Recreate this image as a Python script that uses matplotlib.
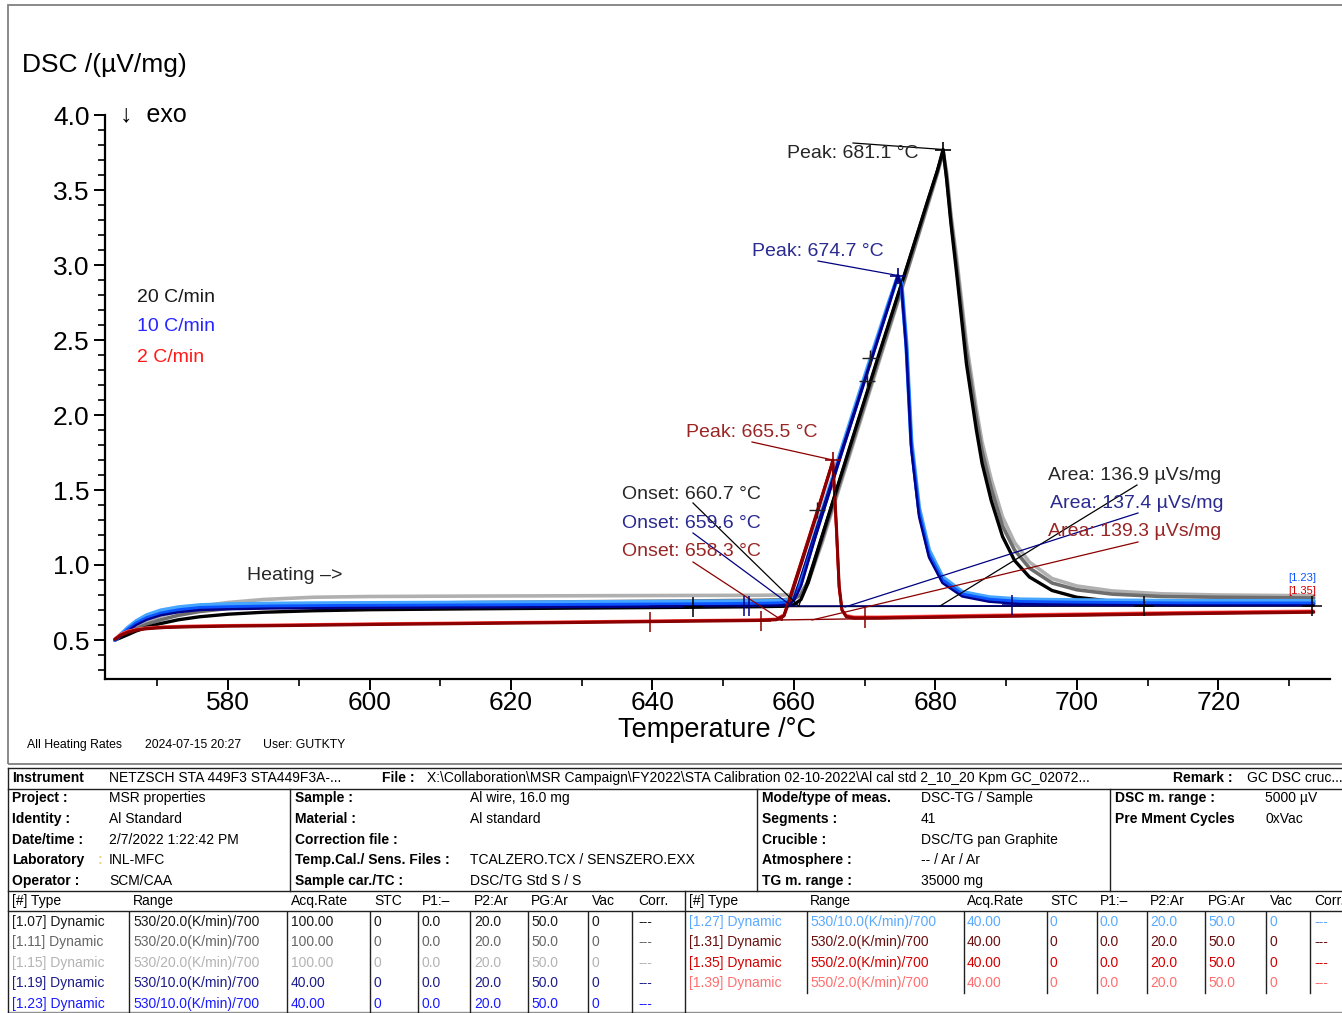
import matplotlib
matplotlib.use("Agg")
import matplotlib.pyplot as plt
from matplotlib.lines import Line2D
from matplotlib.patches import Rectangle
from matplotlib import font_manager

W, H = 1342, 1013

# ---------------- DSC runs (temperature in °C, DSC in µV/mg) ----------------
temp_20 = [564.0, 564.8, 565.8, 567.0, 568.5, 570.5, 573.0, 576.0, 580.0, 585.0,
           592.0, 600.0, 615.0, 630.0, 645.0, 655.0, 658.5, 660.0, 661.0, 662.0,
           664.0, 668.0, 672.0, 676.0, 679.0, 680.3, 681.1, 681.6, 682.2, 683.0,
           684.4, 685.8, 686.6, 687.9, 689.5, 691.2, 693.3, 696.5, 700.0, 705.0,
           712.0, 720.0, 733.5]
dsc_107 = [0.50, 0.515, 0.535, 0.56, 0.585, 0.61, 0.635, 0.655, 0.672, 0.685,
           0.695, 0.702, 0.708, 0.713, 0.718, 0.722, 0.725, 0.735, 0.77, 0.88,
           1.19, 1.80, 2.40, 2.99, 3.44, 3.63, 3.77, 3.57, 3.28, 2.95,
           2.34, 1.90, 1.68, 1.43, 1.19, 1.03, 0.92, 0.83, 0.785, 0.758,
           0.746, 0.742, 0.74]
dsc_111 = [0.50, 0.52, 0.545, 0.575, 0.605, 0.635, 0.665, 0.69, 0.71, 0.725,
           0.735, 0.742, 0.75, 0.755, 0.76, 0.765, 0.768, 0.775, 0.80, 0.89,
           1.17, 1.77, 2.37, 2.96, 3.42, 3.62, 3.76, 3.59, 3.31, 3.00,
           2.42, 1.98, 1.76, 1.51, 1.26, 1.10, 0.98, 0.88, 0.835, 0.806,
           0.79, 0.785, 0.78]
dsc_115 = [0.50, 0.525, 0.555, 0.59, 0.625, 0.66, 0.695, 0.725, 0.75, 0.77,
           0.785, 0.79, 0.793, 0.795, 0.797, 0.798, 0.80, 0.805, 0.82, 0.88,
           1.15, 1.75, 2.35, 2.95, 3.41, 3.61, 3.75, 3.62, 3.34, 3.05,
           2.48, 2.04, 1.82, 1.57, 1.32, 1.15, 1.02, 0.91, 0.86, 0.827,
           0.808, 0.80, 0.795]

temp_10 = [564.0, 564.8, 565.8, 567.0, 568.5, 570.5, 573.0, 576.0, 580.0, 586.0,
           595.0, 610.0, 630.0, 648.0, 655.0, 657.5, 659.0, 660.0, 661.0, 663.0,
           667.0, 671.0, 673.5, 674.7, 675.2, 675.9, 676.6, 677.7, 679.1, 681.0,
           683.8, 687.6, 692.0, 700.0, 715.0, 733.5]
dsc_119 = [0.50, 0.525, 0.56, 0.60, 0.635, 0.665, 0.685, 0.70, 0.705, 0.71,
           0.713, 0.716, 0.72, 0.725, 0.728, 0.73, 0.735, 0.76, 0.86, 1.18,
           1.78, 2.37, 2.74, 2.93, 2.86, 2.43, 1.77, 1.32, 1.05, 0.88,
           0.79, 0.755, 0.74, 0.735, 0.73, 0.73]
dsc_123 = [0.50, 0.53, 0.57, 0.612, 0.648, 0.678, 0.70, 0.715, 0.72, 0.725,
           0.728, 0.731, 0.735, 0.74, 0.743, 0.745, 0.75, 0.775, 0.87, 1.19,
           1.79, 2.38, 2.75, 2.93, 2.87, 2.45, 1.80, 1.35, 1.07, 0.90,
           0.805, 0.77, 0.755, 0.75, 0.745, 0.745]
dsc_127 = [0.50, 0.535, 0.58, 0.625, 0.665, 0.697, 0.718, 0.732, 0.738, 0.742,
           0.745, 0.748, 0.752, 0.756, 0.758, 0.76, 0.765, 0.79, 0.89, 1.21,
           1.81, 2.40, 2.76, 2.92, 2.88, 2.48, 1.83, 1.38, 1.10, 0.92,
           0.82, 0.785, 0.77, 0.765, 0.76, 0.76]

temp_2 = [564.0, 564.8, 565.8, 567.0, 568.5, 571.0, 575.0, 580.0, 590.0, 600.0,
          615.0, 630.0, 645.0, 655.0, 657.5, 658.6, 659.5, 661.0, 663.0, 665.0,
          665.5, 666.0, 666.4, 666.8, 667.4, 668.5, 672.0, 685.0, 700.0, 715.0,
          733.5]
dsc_131 = [0.505, 0.53, 0.55, 0.565, 0.575, 0.583, 0.588, 0.592, 0.597, 0.603,
           0.61, 0.617, 0.625, 0.63, 0.635, 0.66, 0.78, 1.00, 1.30, 1.61,
           1.70, 1.27, 0.86, 0.70, 0.655, 0.645, 0.645, 0.655, 0.665, 0.675,
           0.685]
dsc_135 = [0.505, 0.535, 0.555, 0.568, 0.578, 0.586, 0.591, 0.595, 0.60, 0.606,
           0.613, 0.62, 0.628, 0.633, 0.638, 0.665, 0.79, 1.01, 1.31, 1.62,
           1.69, 1.25, 0.85, 0.70, 0.66, 0.65, 0.65, 0.66, 0.67, 0.68,
           0.69]
dsc_139 = [0.51, 0.54, 0.56, 0.572, 0.582, 0.59, 0.595, 0.598, 0.603, 0.609,
           0.616, 0.623, 0.631, 0.636, 0.641, 0.67, 0.80, 1.02, 1.32, 1.62,
           1.68, 1.23, 0.84, 0.70, 0.665, 0.655, 0.655, 0.665, 0.675, 0.685,
           0.695]

# ---------------- evaluation results ----------------
rate_labels = ["20 C/min", "10 C/min", "2 C/min"]
onset_T = [660.7, 659.6, 658.3]
onset_base = [0.725, 0.73, 0.632]
peak_T = [681.1, 674.7, 665.5]
peak_dsc = [3.77, 2.93, 1.70]
area_val = [136.9, 137.4, 139.3]
baseline_T = [[645.7, 733.5], [639.7, 733.5], [638.0, 733.5]]
baseline_dsc = [[0.722, 0.728], [0.726, 0.73], [0.62, 0.685]]
limit_T = [[645.7, 709.5, 733.2], [653.0, 653.7, 690.9], [639.7, 655.4, 670.0]]
limit_dsc = [[0.723, 0.727, 0.73], [0.728, 0.728, 0.732], [0.62, 0.63, 0.645]]
edge_mark_T = [670.7, 670.4, 663.3]
edge_mark_dsc = [2.38, 2.23, 1.37]

x_ticks = [580, 600, 620, 640, 660, 680, 700, 720]
y_ticks = [0.5, 1.0, 1.5, 2.0, 2.5, 3.0, 3.5, 4.0]

# ---------------- measurement table ----------------
run_ids = ["[1.07]", "[1.11]", "[1.15]", "[1.19]", "[1.23]",
           "[1.27]", "[1.31]", "[1.35]", "[1.39]"]
run_ranges = ["530/20.0(K/min)/700", "530/20.0(K/min)/700", "530/20.0(K/min)/700",
              "530/10.0(K/min)/700", "530/10.0(K/min)/700", "530/10.0(K/min)/700",
              "530/2.0(K/min)/700", "550/2.0(K/min)/700", "550/2.0(K/min)/700"]
run_acq = ["100.00", "100.00", "100.00", "40.00", "40.00",
           "40.00", "40.00", "40.00", "40.00"]
run_stc = ["0"] * 9
run_p1 = ["0.0"] * 9
run_p2 = ["20.0"] * 9
run_pg = ["50.0"] * 9
run_vac = ["0"] * 9
run_corr = ["---"] * 9
table_headers = ["[#] Type", "Range", "Acq.Rate", "STC", "P1:\u2013", "P2:Ar",
                 "PG:Ar", "Vac", "Corr."]

info_left = [("Project :", "MSR properties"), ("Identity :", "Al Standard"),
             ("Date/time :", "2/7/2022 1:22:42 PM"), ("Laboratory", "INL-MFC"),
             ("Operator :", "SCM/CAA")]
info_mid = [("Sample :", "Al wire, 16.0 mg"), ("Material :", "Al standard"),
            ("Correction file :", ""),
            ("Temp.Cal./ Sens. Files :", "TCALZERO.TCX / SENSZERO.EXX"),
            ("Sample car./TC :", "DSC/TG Std S / S")]
info_right = [("Mode/type of meas.", "DSC-TG / Sample"), ("Segments :", "41"),
              ("Crucible :", "DSC/TG pan Graphite"), ("Atmosphere :", "-- / Ar / Ar"),
              ("TG m. range :", "35000 mg")]
info_far = [("DSC m. range :", "5000 \u00b5V"), ("Pre Mment Cycles", "0xVac")]

# ---------------- styles ----------------
run_colors = ["#000000", "#6e6e6e", "#b0b0b0",
              "#00008b", "#0a55ff", "#46a6ff",
              "#8b0000", "#d40000", "#ff6464"]
table_colors = ["#1a1a1a", "#666666", "#b3b3b3",
                "#1c1c8a", "#1a1aff",
                "#5aaaff", "#6b0f0f", "#d40000", "#ff6f6f"]
rate_text_colors = ["#1a1a1a", "#2626ff", "#ff1a1a"]
anno_colors = ["#262626", "#2a2a90", "#9a2525"]

names = {f.name for f in font_manager.fontManager.ttflist}
main_font = ["Liberation Sans", "DejaVu Sans"]
if "Liberation Sans Narrow" in names:
    narrow_font = ["Liberation Sans Narrow", "Liberation Sans", "DejaVu Sans"]
    tsize = 12.2
    fsize = 9.8
else:
    narrow_font = ["Liberation Sans", "DejaVu Sans"]
    tsize = 10.0
    fsize = 8.8
plt.rcParams["font.family"] = main_font

fig = plt.figure(figsize=(W / 100, H / 100), dpi=100)


def fx(px):
    return px / W


def fy(py):
    return 1 - py / H


def ftext(px, py, s, **kw):
    kw.setdefault("va", "center")
    kw.setdefault("ha", "left")
    fig.text(fx(px), fy(py), s, **kw)


def hline(py, x0, x1, **kw):
    fig.add_artist(Line2D([fx(x0), fx(x1)], [fy(py), fy(py)],
                          transform=fig.transFigure, color=kw.get("color", "#202020"),
                          lw=kw.get("lw", 1.0)))


def vline(px, y0, y1, **kw):
    fig.add_artist(Line2D([fx(px), fx(px)], [fy(y0), fy(y1)],
                          transform=fig.transFigure, color=kw.get("color", "#202020"),
                          lw=kw.get("lw", 1.0)))


# ---------------- plot frame and axes ----------------
fig.add_artist(Rectangle((fx(8), fy(764)), fx(1350) - fx(8), fy(5) - fy(764),
                         transform=fig.transFigure, fill=False,
                         edgecolor="#808080", lw=1.3))

ax = fig.add_axes([fx(105), fy(679), fx(1330) - fx(105), fy(115) - fy(679)])
ax.set_xlim(562.6, 735.8)
ax.set_ylim(0.24, 4.0)
for side in ("top", "right"):
    ax.spines[side].set_visible(False)
for side in ("left", "bottom"):
    ax.spines[side].set_linewidth(1.6)
ax.set_xticks(x_ticks)
ax.set_xticks(list(range(570, 736, 10)), minor=True)
ax.set_yticks(y_ticks)
ax.set_yticks([round(0.3 + 0.1 * i, 1) for i in range(38)], minor=True)
ax.set_xticklabels([str(v) for v in x_ticks])
ax.set_yticklabels([f"{v:.1f}" for v in y_ticks])
ax.tick_params(axis="both", which="major", length=8, width=1.4, labelsize=19)
ax.tick_params(axis="both", which="minor", length=5, width=1.2)
ax.tick_params(axis="x", which="major", pad=1)
ax.tick_params(axis="y", which="major", pad=3)
ax.patch.set_alpha(0)

# ---------------- curves ----------------
runs = [(temp_20, dsc_115, 2), (temp_20, dsc_111, 1), (temp_20, dsc_107, 0),
        (temp_10, dsc_127, 5), (temp_10, dsc_123, 4), (temp_10, dsc_119, 3),
        (temp_2, dsc_139, 8), (temp_2, dsc_135, 7), (temp_2, dsc_131, 6)]
widths = {0: 2.4, 1: 2.6, 2: 2.6, 3: 1.7, 4: 2.5, 5: 3.0, 6: 2.2, 7: 1.9, 8: 1.9}
for t, d, k in runs:
    ax.plot(t, d, color=run_colors[k], lw=widths[k], solid_joinstyle="round",
            solid_capstyle="round", zorder=3)

# ---------------- evaluation graphics ----------------
eval_line_colors = ["#000000", "#000080", "#8b0000"]
for i in range(3):
    c = eval_line_colors[i]
    # integration baseline
    ax.plot(baseline_T[i], baseline_dsc[i], color=c, lw=1.0, zorder=4)
    # leading edge tangent from onset to peak
    ax.plot([onset_T[i], peak_T[i]], [onset_base[i], peak_dsc[i]],
            color=c, lw=0.9, zorder=4)
    # integration limits
    ax.plot(limit_T[i], limit_dsc[i], ls="none", marker="+", ms=14, mew=1.1,
            color=c, zorder=5)
    # peak marker
    ax.plot([peak_T[i]], [peak_dsc[i]], ls="none", marker="+", ms=12, mew=1.2,
            color=c, zorder=5)
ax.plot(edge_mark_T, edge_mark_dsc, ls="none", marker="+", ms=12, mew=1.0,
        color="#202020", zorder=5)

inv = ax.transData.inverted()


def px_to_data(px, py):
    return inv.transform((px, H - py))


peak_text_px = [(787, 153), (752, 251), (686, 432)]
peak_lead_px = [(853, 143), (818, 261), (752, 442)]
onset_text_px = [(622, 494), (622, 524), (622, 552)]
onset_lead_px = [(693, 503), (693, 533), (693, 562)]
area_text_px = [(1048, 475), (1050, 504), (1048, 532)]
area_lead_px = [((1137, 485), (940, 606)), ((1138, 513), (845, 607)),
                ((1138, 542), (812, 620))]

for i in range(3):
    c = anno_colors[i]
    lc = eval_line_colors[i]
    ftext(*peak_text_px[i], f"Peak: {peak_T[i]:.1f} \u00b0C", color=c, fontsize=14)
    ftext(*onset_text_px[i], f"Onset: {onset_T[i]:.1f} \u00b0C", color=c, fontsize=14)
    ftext(*area_text_px[i], f"Area: {area_val[i]:.1f} \u00b5Vs/mg", color=c, fontsize=14)
    p0 = px_to_data(*peak_lead_px[i])
    ax.plot([p0[0], peak_T[i]], [p0[1], peak_dsc[i]], color=lc, lw=0.9,
            zorder=4, clip_on=False)
    o0 = px_to_data(*onset_lead_px[i])
    ax.plot([o0[0], onset_T[i]], [o0[1], onset_base[i]], color=lc, lw=0.9,
            zorder=4, clip_on=False)
    a0 = px_to_data(*area_lead_px[i][0])
    a1 = px_to_data(*area_lead_px[i][1])
    ax.plot([a0[0], a1[0]], [a0[1], a1[1]], color=lc, lw=0.9, zorder=4,
            clip_on=False)

# curve end tags
ftext(1316, 578, run_ids[4], ha="right", fontsize=8, color=run_colors[4],
      family=narrow_font)
ftext(1316, 591, run_ids[7], ha="right", fontsize=8, color=run_colors[7],
      family=narrow_font)

# ---------------- chart texts ----------------
ftext(22, 65, "DSC /(\u00b5V/mg)", fontsize=19)
ftext(120, 114, "\u2193  exo", fontsize=18)
ftext(717, 730, "Temperature /\u00b0C", ha="center", fontsize=19.5)
for i, py in enumerate([297, 326, 357]):
    ftext(137, py, rate_labels[i], color=rate_text_colors[i], fontsize=14)
ftext(247, 576, "Heating \u2013>", fontsize=14, color="#262626")
ftext(27, 745, "All Heating Rates", fontsize=fsize, family=narrow_font)
ftext(145, 745, "2024-07-15 20:27", fontsize=fsize, family=narrow_font)
ftext(263, 745, "User: GUTKTY", fontsize=fsize, family=narrow_font)

# ---------------- report table ----------------
hline(768, 8, 1350)
hline(789, 8, 1350)
hline(891, 8, 1350)
hline(911, 8, 1350)
hline(1012, 8, 1350, color="#909090")
vline(8, 768, 1013)
for px in (290, 757, 1110):
    vline(px, 789, 891)

bold = dict(fontsize=tsize, family=narrow_font, fontweight="bold")
norm = dict(fontsize=tsize, family=narrow_font)

ftext(12, 778, "Instrument", **bold)
ftext(109, 778, "NETZSCH STA 449F3 STA449F3A-...", **norm)
ftext(382, 778, "File :", **bold)
ftext(427, 778, "X:\\Collaboration\\MSR Campaign\\FY2022\\STA Calibration 02-10-2022"
      "\\Al cal std 2_10_20 Kpm GC_02072...", **norm)
ftext(1173, 778, "Remark :", **bold)
ftext(1247, 778, "GC DSC cruc...", **norm)

row_y = [798, 819, 840, 860, 881]
for (lab, val), py in zip(info_left, row_y):
    ftext(12, py, lab, **bold)
    ftext(109, py, val, **norm)
ftext(98, 860, ":", fontsize=tsize, family=narrow_font, color="#e6d58a",
      fontweight="bold")
for (lab, val), py in zip(info_mid, row_y):
    ftext(295, py, lab, **bold)
    ftext(470, py, val, **norm)
for (lab, val), py in zip(info_right, row_y):
    ftext(762, py, lab, **bold)
    ftext(921, py, val, **norm)
for (lab, val), py in zip(info_far, row_y):
    ftext(1115, py, lab, **bold)
    ftext(1265, py, val, **norm)

left_cols = [12, 133, 291, 374, 422, 474, 531, 592, 638]
right_cols = [689, 810, 967, 1050, 1100, 1150, 1208, 1270, 1314]
for h, px in zip(table_headers, left_cols):
    ftext(px, 901, h, **norm)
for h, px in zip(table_headers, right_cols):
    ftext(px, 901, h, **norm)

data_rows_y = [922, 942, 963, 983, 1004]
for k in range(9):
    cols = left_cols if k < 5 else right_cols
    py = data_rows_y[k if k < 5 else k - 5]
    cells = [run_ids[k] + " Dynamic", run_ranges[k], run_acq[k], run_stc[k],
             run_p1[k], run_p2[k], run_pg[k], run_vac[k], run_corr[k]]
    for s, px in zip(cells, cols):
        ftext(px, py, s, color=table_colors[k], **norm)

for px in (129, 287, 370, 418, 470, 528, 588, 632):
    vline(px, 912, 1013)
vline(685, 891, 1013)
for px in (807, 964, 1047, 1097, 1147, 1205, 1266, 1310):
    vline(px, 912, 993)

fig.savefig("out.png", dpi=100)
